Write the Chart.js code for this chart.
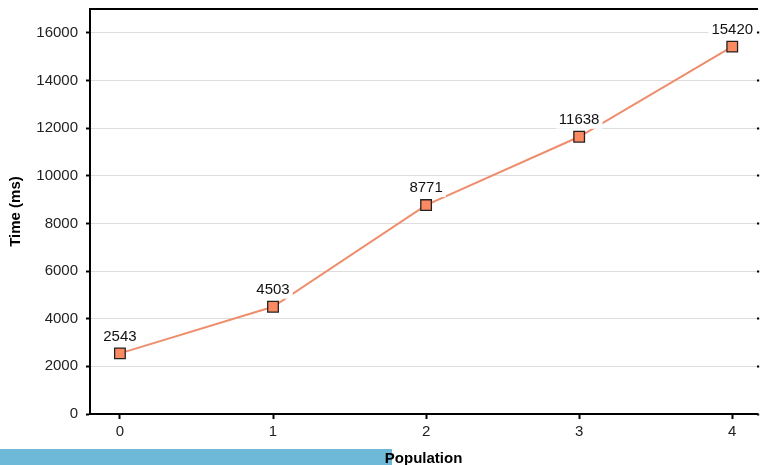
<!DOCTYPE html>
<html>
<head>
<meta charset="utf-8">
<script src="https://cdn.jsdelivr.net/npm/chart.js@4.4.1/dist/chart.umd.min.js"></script>
<style>
  html, body { margin: 0; padding: 0; background: #fff; overflow: hidden; }
  #wrap { position: relative; width: 760px; height: 465px; overflow: hidden; }
  #strip { position: absolute; left: 0; top: 449px; width: 392px; height: 16px; background: #6fb9d8; }
  #chart { position: absolute; left: 0; top: 0; }
</style>
</head>
<body>
<div id="wrap">
  <div id="strip"></div>
  <canvas id="chart" width="766" height="465"></canvas>
</div>
<script>
// chart data
const populations = [0, 1, 2, 3, 4];
const times = [2543, 4503, 8771, 11638, 15420];
const yTicks = [0, 2000, 4000, 6000, 8000, 10000, 12000, 14000, 16000];

const FONT = '"Liberation Sans", Arial, sans-serif';

// draws the value above each point on a white box
const valueLabels = {
  id: "valueLabels",
  afterDatasetsDraw(chart) {
    const ctx = chart.ctx;
    const meta = chart.getDatasetMeta(0);
    ctx.save();
    ctx.font = "15px " + FONT;
    ctx.textAlign = "center";
    ctx.textBaseline = "middle";
    meta.data.forEach((pt, i) => {
      const text = String(times[i]);
      const w = ctx.measureText(text).width;
      const y = pt.y - 17;
      ctx.fillStyle = "#fff";
      ctx.fillRect(pt.x - w / 2 - 3, y - 9, w + 6, 18);
      ctx.fillStyle = "#111";
      ctx.fillText(text, pt.x, y);
    });
    ctx.restore();
  }
};

const points = populations.map((p, i) => ({ x: p, y: times[i] }));
const setYTicks = (scale) => { scale.ticks = yTicks.map(v => ({ value: v })); };
const setXTicks = (scale) => { scale.ticks = populations.map(v => ({ value: v })); };
// labels may hang past the plot edges, so don't reserve room for them
const noEdgePadding = (scale) => {
  scale.paddingTop = 0;
  scale.paddingBottom = 0;
  scale.paddingLeft = 0;
  scale.paddingRight = 0;
};

new Chart(document.getElementById("chart"), {
  type: "line",
  data: {
    datasets: [{
      data: points,
      borderColor: "#ef8e6c",
      borderWidth: 2,
      backgroundColor: "#fb8a62",
      pointStyle: "rect",
      pointRadius: 7.5,
      pointBorderColor: "#222",
      pointBorderWidth: 1.3,
      tension: 0
    }]
  },
  options: {
    responsive: false,
    animation: false,
    layout: { padding: { top: 9, left: 0, right: 0, bottom: 0 } },
    plugins: {
      legend: { display: false },
      tooltip: { enabled: false }
    },
    scales: {
      x: {
        type: "linear",
        position: "bottom",
        min: -0.1954,
        max: 4.163,
        afterBuildTicks: setXTicks,
        afterFit: noEdgePadding,
        ticks: {
          padding: 4,
          color: "#222",
          font: { family: FONT, size: 15 },
          callback: (v) => String(v)
        },
        grid: { drawOnChartArea: false, tickLength: 5, tickWidth: 2, tickColor: "#000" },
        border: { color: "#000", width: 2 },
        title: {
          display: true,
          text: "Population",
          color: "#000",
          font: { family: FONT, size: 15, weight: "bold" },
          padding: { top: 5, bottom: -3 }
        }
      },
      x2: {
        type: "linear",
        position: "top",
        min: -0.1954,
        max: 4.163,
        afterFit: noEdgePadding,
        ticks: { display: false },
        grid: { drawOnChartArea: false, drawTicks: false },
        border: { color: "#000", width: 2 }
      },
      y: {
        min: 0,
        max: 17000,
        afterBuildTicks: setYTicks,
        afterFit: noEdgePadding,
        ticks: {
          padding: 8,
          color: "#222",
          font: { family: FONT, size: 15 },
          callback: (v) => String(v)
        },
        grid: { color: "#ddd", tickLength: 4, tickWidth: 2, tickColor: "#000" },
        border: { color: "#000", width: 2 },
        title: {
          display: true,
          text: "Time (ms)",
          color: "#000",
          font: { family: FONT, size: 15, weight: "bold" },
          padding: { top: 7, bottom: 3.3 }
        }
      },
      y2: {
        position: "right",
        min: 0,
        max: 17000,
        afterBuildTicks: setYTicks,
        afterFit: noEdgePadding,
        ticks: { display: false },
        grid: { drawOnChartArea: false, tickLength: 2, tickWidth: 2, tickColor: "#000" },
        border: { display: false }
      }
    }
  },
  plugins: [valueLabels]
});
</script>
</body>
</html>
